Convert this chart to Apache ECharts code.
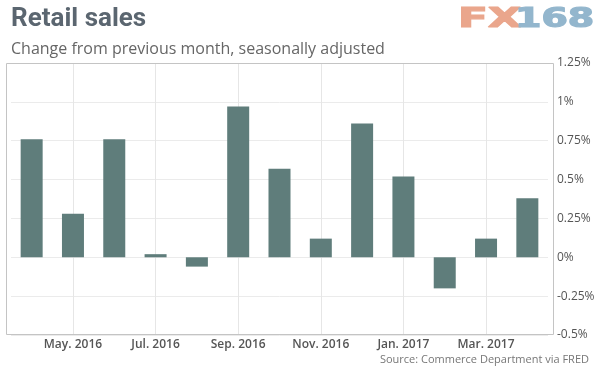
<!DOCTYPE html>
<html><head><meta charset="utf-8">
<script src="https://cdn.jsdelivr.net/npm/echarts@6/dist/echarts.min.js"></script>
<style>html,body{margin:0;padding:0;background:#fff}#c{width:600px;height:371px}</style>
</head><body><div id="c"></div>
<script>
var months = ['Apr. 2016','May. 2016','Jun. 2016','Jul. 2016','Aug. 2016','Sep. 2016','Oct. 2016','Nov. 2016','Dec. 2016','Jan. 2017','Feb. 2017','Mar. 2017','Apr. 2017'];
var salesChange = [0.76, 0.28, 0.76, 0.02, -0.06, 0.97, 0.57, 0.12, 0.86, 0.52, -0.20, 0.12, 0.38];
var gridMonths = ['May. 2016','Jul. 2016','Sep. 2016','Nov. 2016','Jan. 2017','Mar. 2017'];
var titleText = 'Retail sales';
var subtitleText = 'Change from previous month, seasonally adjusted';
var sourceText = 'Source: Commerce Department via FRED';

var chart = echarts.init(document.getElementById('c'), null, {renderer:'canvas'});
chart.setOption({
  animation: false,
  backgroundColor: '#fff',
  title: [
    {text: titleText, left: 6, top: 1, textStyle: {fontFamily: 'Roboto', fontWeight: 'bold', fontSize: 26, color: '#5b6670'}},
    {text: subtitleText, left: 6, top: 36, textStyle: {fontFamily: 'Open Sans', fontWeight: 'normal', fontSize: 16, color: '#666'}},
    {text: sourceText, right: 6, top: 349, textStyle: {fontFamily: 'Open Sans', fontWeight: 'normal', fontSize: 11, color: '#777'}}
  ],
  graphic: [
    {type: 'rect', shape: {x: 6.5, y: 63.5, width: 547, height: 271}, style: {fill: 'none', stroke: '#c4c4c4', lineWidth: 1}, z: 10, silent: true},
    {type: 'text', x: 458, y: 7, scaleX: 1.68, style: {text: 'FX', font: 'bold 26px "DejaVu Sans"', fill: '#eaa68c', stroke: '#eaa68c', lineWidth: 1.2, verticalAlign: 'top'}},
    {type: 'text', x: 515, y: 7, scaleX: 1.46, style: {text: '168', font: 'bold 26px "DejaVu Sans"', fill: '#93b6cd', stroke: '#93b6cd', lineWidth: 1.2, verticalAlign: 'top'}}
  ],
  grid: {left: 11, right: 52, top: 63, bottom: 36, containLabel: false},
  xAxis: {
    type: 'category', data: months,
    axisLine: {show: false}, axisTick: {show: false},
    axisLabel: {interval: function(i){return i % 2 === 1;}, margin: 4, fontFamily: 'Open Sans', fontWeight: 600, fontSize: 12, color: '#555'},
    splitLine: {show: false}
  },
  yAxis: {
    type: 'value', position: 'right', min: -0.5, max: 1.25, interval: 0.25,
    axisLine: {show: false}, axisTick: {show: false},
    axisLabel: {margin: 9, fontFamily: 'Open Sans', fontSize: 12, color: '#555',
      formatter: function(v){ return (+v.toFixed(2)) + '%'; }},
    splitLine: {show: true, lineStyle: {color: '#ebebeb', width: 1}}
  },
  series: [{
    type: 'bar', data: salesChange, barWidth: 22, z: 3,
    itemStyle: {color: '#5f7d7b'},
    markLine: {
      silent: true, symbol: 'none', z: 1, animation: false,
      label: {show: false},
      lineStyle: {color: '#e6e6e6', width: 1, type: 'solid'},
      emphasis: {disabled: true},
      data: gridMonths.map(function(m){ return {xAxis: m}; })
    }
  }]
});
</script>
</body></html>
